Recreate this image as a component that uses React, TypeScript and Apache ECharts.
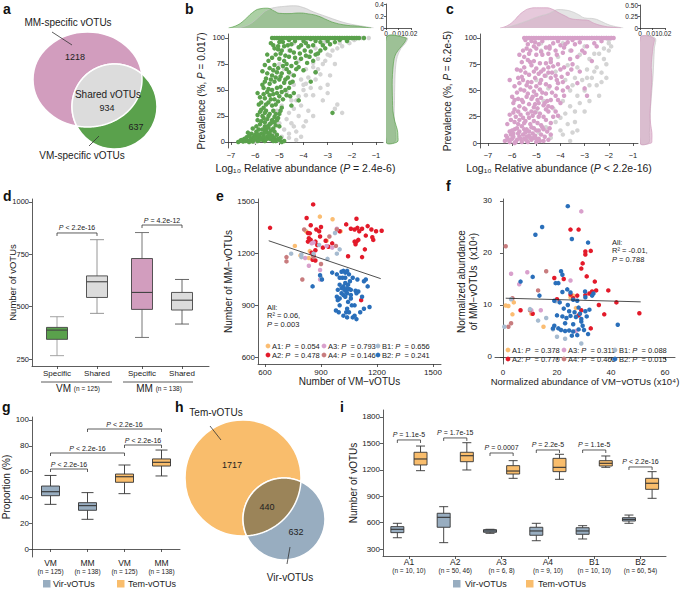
import React, { useEffect, useRef } from "react";
import * as echarts from "echarts";

const FONT = "'Liberation Sans', Arial, Helvetica, sans-serif";
const TXT = "#222";
const AX = "#333";
const GREEN = "#5aa14c";
const PINK = "#d29dbe";
const PINK_PT = "#d6a0c8";
const SHARED = "#dcdcdc";
const GREY_PT = "#d4d4d4";
const VIR = "#98adc0";
const TEM = "#f9bd6c";
const OLIVE = "#9b8459";

// ---------------- data ----------------
const vennACounts = [1218, 934, 637];
const vennHCounts = [1717, 440, 632];

const bGreen = [
  [-6.3, 1], [-6.2, 2], [-6.1, 0.5], [-6.0, 3], [-5.9, 1], [-5.8, 4], [-5.7, 2], [-5.6, 1], [-5.5, 5], [-5.4, 3], [-5.3, 2], [-5.85, 6], [-5.75, 8], [-5.65, 7], [-5.5, 9], [-6.05, 5], [-5.95, 10], [-5.4, 8], [-5.3, 6], [-5.2, 4], [-6.15, 3.5], [-5.55, 12], [-5.7, 12], [-5.45, 14], [-5.6, 15], [-6.25, 0], [-5.15, 1], [-5.05, 3], [-6.0, 7], [-5.35, 11], [-6.7, 0], [-6.5, 0.5], [-6.4, 1], [-4.9, 0], [-4.8, 1], [-5.0, 2], [-6.55, 2],
  [-6.6, 1.5], [-6.45, 3], [-6.35, 4.5], [-6.25, 6], [-6.15, 8], [-6.05, 2], [-5.95, 4], [-5.85, 1.5], [-5.75, 3.5], [-5.65, 4.5], [-5.55, 2.5], [-5.45, 6], [-5.35, 4], [-5.25, 1], [-5.1, 7], [-4.95, 4], [-5.9, 7.5], [-5.6, 9.5], [-5.2, 10], [-6.3, 9],
  [-5.8, 17], [-5.6, 19], [-5.5, 22], [-5.35, 18], [-5.2, 24], [-5.7, 25], [-5.4, 27], [-5.25, 30], [-5.55, 30], [-5.1, 21], [-5.0, 27], [-5.65, 33], [-5.3, 35], [-5.45, 38], [-4.9, 33], [-5.8, 29], [-5.9, 21], [-5.15, 16],
  [-6.1, 13], [-5.95, 15], [-5.85, 12], [-5.75, 20], [-5.65, 23], [-5.45, 25], [-5.3, 21], [-5.2, 19], [-5.05, 23], [-5.5, 15], [-5.4, 17], [-5.25, 13], [-5.9, 26], [-5.6, 28], [-5.0, 15], [-4.95, 30], [-5.75, 31], [-5.15, 27],
  [-5.6, 42], [-5.4, 45], [-5.2, 41], [-5.0, 44], [-5.5, 48], [-5.3, 50], [-5.1, 52], [-4.9, 48], [-5.7, 55], [-5.4, 56], [-5.2, 58], [-4.8, 57], [-5.0, 60], [-5.55, 61], [-4.6, 52], [-4.4, 47], [-5.9, 47], [-4.2, 40], [-5.75, 38],
  [-5.85, 36], [-5.55, 36], [-5.35, 41], [-5.15, 36], [-5.05, 39], [-4.85, 41], [-4.7, 45], [-5.65, 46], [-5.25, 46], [-5.45, 51], [-4.95, 53], [-4.75, 50], [-5.8, 43], [-5.1, 47], [-4.55, 44],
  [-5.3, 64], [-5.1, 67], [-4.9, 66], [-4.7, 70], [-5.4, 71], [-5.2, 74], [-4.5, 73], [-4.3, 76], [-4.8, 78], [-5.0, 80], [-4.6, 82], [-4.1, 80], [-3.9, 83], [-5.6, 74], [-4.4, 86], [-4.9, 88], [-3.7, 87], [-5.5, 84], [-4.0, 69], [-3.6, 78], [-5.7, 68], [-4.65, 62],
  [-5.6, 58], [-5.35, 60], [-5.15, 62], [-4.95, 63], [-4.75, 60], [-4.55, 57], [-4.4, 64], [-5.5, 66], [-5.25, 69], [-5.05, 71], [-4.85, 73], [-4.6, 67], [-4.3, 70], [-4.45, 58], [-5.65, 52],
  [-5.45, 78], [-5.3, 81], [-5.15, 84], [-4.95, 85], [-4.75, 83], [-4.55, 88], [-4.35, 81], [-4.15, 85], [-3.95, 88], [-3.75, 82], [-4.7, 75], [-4.2, 72], [-3.85, 76], [-3.5, 84], [-3.3, 88], [-5.05, 89],
  [-5.2, 90], [-4.8, 92], [-4.5, 94], [-4.2, 91], [-3.9, 95], [-3.6, 93], [-3.3, 96], [-5.0, 96], [-4.6, 98], [-3.1, 90], [-3.4, 85], [-2.9, 94], [-5.35, 95], [-4.0, 97],
  [-5.25, 93], [-5.05, 92], [-4.85, 96], [-4.65, 93], [-4.35, 97], [-4.1, 93], [-3.8, 92], [-3.5, 97], [-3.2, 93], [-3.0, 97], [-2.7, 96], [-2.5, 98], [-4.95, 98], [-3.7, 99], [-2.2, 97],
  [-5.3, 100], [-5.1, 100], [-4.9, 100], [-4.7, 100], [-4.5, 100], [-4.3, 100], [-4.1, 100], [-3.9, 100], [-3.7, 100], [-3.5, 100], [-3.3, 100], [-3.1, 100], [-2.9, 100], [-2.7, 100], [-2.5, 100], [-2.3, 100], [-2.1, 100], [-1.9, 100], [-1.5, 100],
  [-5.2, 100], [-5.0, 100], [-4.8, 100], [-4.6, 100], [-4.4, 100], [-4.2, 100], [-4.0, 100], [-3.8, 100], [-3.6, 100], [-3.4, 100], [-3.2, 100], [-3.0, 100], [-2.8, 100], [-2.6, 100], [-2.4, 100], [-2.2, 100], [-2.0, 100], [-1.8, 100], [-1.7, 100],
  [-2.8, 28], [-3.5, 67], [-4.5, 35], [-3.7, 58],
];
const bGrey = [
  [-5.9, 1], [-5.6, 2], [-5.3, 3], [-5.0, 1], [-4.9, 5], [-5.2, 8], [-4.8, 12], [-5.0, 18], [-4.7, 22], [-4.6, 28], [-4.4, 32], [-4.9, 35], [-4.5, 40], [-4.2, 44], [-4.0, 50], [-4.7, 48], [-4.4, 55], [-4.1, 60], [-3.8, 62], [-4.5, 65], [-3.9, 70], [-3.6, 72], [-3.5, 67], [-3.2, 75], [-4.2, 78], [-3.8, 82], [-3.4, 80], [-3.0, 84], [-4.6, 88], [-3.5, 90], [-2.8, 88], [-3.1, 96], [-2.5, 95], [-2.2, 98], [-3.3, 100], [-2.7, 100], [-2.2, 100], [-1.6, 100], [-1.3, 100], [-3.0, 55], [-3.2, 40], [-2.7, 32], [-2.4, 28], [-3.6, 25], [-4.0, 15], [-5.5, 10], [-5.3, 20], [-5.1, 30], [-4.3, 10], [-3.8, 30], [-4.8, 70], [-5.0, 75], [-4.4, 95], [-3.9, 98], [-2.9, 64], [-4.6, 4], [-4.3, 2], [-6.0, 0], [-3.3, 52], [-3.6, 45],
  [-4.6, 8], [-4.4, 15], [-4.2, 25], [-4.5, 18], [-4.1, 35], [-3.9, 45], [-3.7, 52], [-3.9, 56], [-3.5, 60], [-3.3, 65], [-3.6, 76], [-3.1, 78], [-2.9, 83], [-2.6, 90], [-2.4, 92], [-2.1, 95], [-1.9, 98], [-2.0, 100], [-1.8, 100], [-1.5, 100], [-2.5, 100], [-4.3, 40], [-4.0, 55], [-3.4, 70], [-2.7, 75], [-3.9, 20], [-4.1, 5], [-3.0, 47], [-2.6, 36],
];
const bTopGreen = [[-7.1, 0], [-6.75, 0.045], [-6.45, 0.13], [-6.1, 0.26], [-5.8, 0.32], [-5.5, 0.33], [-5.2, 0.28], [-5.0, 0.245], [-4.6, 0.24], [-4.2, 0.25], [-3.8, 0.235], [-3.4, 0.2], [-3.0, 0.13], [-2.7, 0.085], [-2.2, 0.045], [-1.75, 0.03], [-1.4, 0.01], [-1.2, 0]];
const bTopGrey = [[-6.7, 0], [-6.3, 0.05], [-6.0, 0.13], [-5.7, 0.24], [-5.5, 0.3], [-5.2, 0.34], [-4.8, 0.36], [-4.4, 0.37], [-4.0, 0.34], [-3.6, 0.27], [-3.05, 0.19], [-2.7, 0.14], [-2.4, 0.1], [-2.0, 0.06], [-1.55, 0.03], [-1.1, 0]];
const bRightGreen = [[0.016, 100], [0.015, 96], [0.011, 90], [0.008, 85], [0.0065, 80], [0.0055, 70], [0.005, 60], [0.005, 50], [0.0052, 40], [0.0055, 30], [0.007, 20], [0.009, 12], [0.0095, 6], [0.009, 0]];
const bRightGrey = [[0.017, 100], [0.0155, 95], [0.012, 90], [0.009, 82], [0.0075, 70], [0.007, 55], [0.0068, 40], [0.0065, 25], [0.007, 18], [0.0075, 10], [0.007, 0]];

const cPink = [
  [-6.3, 2], [-6.2, 5], [-6.1, 1], [-6.0, 4], [-5.9, 0], [-5.8, 3], [-5.7, 6], [-5.6, 1], [-5.5, 4], [-5.4, 2], [-5.3, 7], [-5.2, 3], [-5.1, 5], [-5.0, 1], [-4.9, 4], [-4.7, 2], [-5.75, 9], [-5.45, 10], [-5.15, 9], [-6.05, 8], [-4.8, 8], [-4.5, 3], [-6.25, 7],
  [-6.15, 3], [-5.95, 6], [-5.85, 1], [-5.65, 4], [-5.55, 8], [-5.35, 1], [-5.25, 5], [-5.05, 7], [-4.85, 2], [-4.65, 6], [-4.55, 11], [-4.4, 8], [-6.1, 11], [-5.9, 13], [-5.7, 11], [-5.5, 13], [-5.3, 11], [-5.1, 14], [-4.9, 12], [-4.75, 15], [-4.45, 14], [-5.95, 9], [-5.4, 6], [-5.0, 4],
  [-6.0, 12], [-5.8, 14], [-5.6, 16], [-5.4, 13], [-5.2, 15], [-5.0, 12], [-4.8, 17], [-5.9, 20], [-5.7, 22], [-5.5, 19], [-5.3, 24], [-5.1, 21], [-4.9, 25], [-4.6, 22], [-5.65, 27], [-5.35, 28], [-5.05, 29], [-4.5, 30], [-6.2, 18], [-4.3, 25], [-4.1, 26], [-4.7, 13],
  [-6.05, 22], [-5.85, 25], [-5.75, 18], [-5.55, 24], [-5.45, 21], [-5.25, 18], [-5.15, 26], [-4.95, 19], [-4.85, 28], [-4.7, 25], [-4.4, 19], [-4.2, 30], [-5.95, 29], [-5.75, 30], [-5.45, 32], [-5.2, 30], [-4.95, 33], [-4.6, 32], [-4.35, 34], [-6.1, 27],
  [-5.9, 32], [-5.7, 35], [-5.5, 33], [-5.3, 37], [-5.1, 34], [-4.9, 38], [-4.7, 36], [-5.6, 41], [-5.4, 44], [-5.2, 42], [-5.0, 46], [-4.8, 43], [-4.6, 47], [-4.4, 41], [-5.8, 48], [-5.5, 50], [-5.1, 49], [-4.2, 45], [-3.9, 50], [-4.0, 38], [-6.0, 44], [-4.5, 35],
  [-5.95, 38], [-5.75, 42], [-5.55, 39], [-5.35, 47], [-5.15, 44], [-4.95, 41], [-4.75, 48], [-4.55, 40], [-4.35, 48], [-4.15, 52], [-5.65, 51], [-5.25, 53], [-4.85, 51], [-4.45, 54], [-4.1, 41], [-3.85, 45], [-5.9, 41], [-5.05, 37], [-4.65, 38], [-3.7, 53],
  [-5.9, 54], [-5.7, 57], [-5.4, 55], [-5.2, 58], [-5.0, 54], [-4.8, 60], [-4.6, 56], [-4.4, 62], [-5.6, 63], [-5.3, 65], [-5.1, 68], [-4.9, 66], [-4.7, 70], [-4.5, 67], [-4.2, 64], [-5.8, 70], [-5.5, 72], [-5.2, 74], [-4.3, 73], [-4.0, 70], [-3.7, 66], [-5.35, 79], [-5.1, 78], [-4.6, 76], [-4.1, 57],
  [-5.75, 62], [-5.55, 60], [-5.35, 58], [-5.05, 62], [-4.85, 57], [-4.65, 64], [-4.35, 67], [-4.15, 60], [-3.95, 63], [-5.65, 69], [-5.45, 67], [-5.0, 71], [-4.8, 68], [-4.5, 72], [-4.1, 75], [-3.85, 72], [-3.55, 70], [-5.6, 77], [-5.25, 77], [-4.85, 76], [-4.4, 77], [-3.5, 75], [-3.2, 68], [-3.9, 58],
  [-5.5, 82], [-5.3, 85], [-5.0, 84], [-4.8, 87], [-4.5, 85], [-4.2, 88], [-3.9, 86], [-5.4, 90], [-5.1, 92], [-4.9, 94], [-4.6, 91], [-4.3, 95], [-4.0, 93], [-3.7, 96], [-3.4, 94], [-5.2, 97], [-3.1, 88], [-3.6, 80], [-2.7, 78], [-2.5, 92], [-4.4, 80],
  [-5.55, 88], [-5.25, 88], [-5.0, 90], [-4.75, 84], [-4.45, 90], [-4.15, 84], [-3.85, 91], [-3.55, 88], [-3.3, 82], [-3.0, 86], [-5.35, 94], [-5.05, 96], [-4.75, 97], [-4.45, 92], [-4.1, 97], [-3.8, 94], [-3.5, 98], [-3.2, 96], [-2.9, 92], [-2.6, 95], [-2.3, 97], [-5.45, 98],
  [-5.5, 100], [-5.3, 100], [-5.1, 100], [-4.9, 100], [-4.7, 100], [-4.5, 100], [-4.3, 100], [-4.1, 100], [-3.9, 100], [-3.7, 100], [-3.5, 100], [-3.3, 100], [-3.1, 100], [-2.9, 100], [-2.7, 100], [-2.5, 100], [-2.3, 100], [-2.1, 100], [-1.9, 100],
  [-5.4, 100], [-5.2, 100], [-5.0, 100], [-4.8, 100], [-4.6, 100], [-4.4, 100], [-4.2, 100], [-4.0, 100], [-3.8, 100], [-3.6, 100], [-3.4, 100], [-3.2, 100], [-3.0, 100], [-2.8, 100], [-2.6, 100], [-2.4, 100], [-2.2, 100], [-2.0, 100], [-1.8, 100],
  [-6.1, 60], [-5.7, 84], [-3.3, 57], [-3.0, 52], [-2.9, 45],
];
const cGrey = [
  [-5.3, 5], [-4.9, 10], [-4.6, 15], [-4.4, 5], [-4.2, 20], [-4.0, 12], [-3.8, 28], [-3.6, 35], [-3.9, 40], [-3.3, 45], [-3.5, 55], [-3.1, 60], [-2.9, 62], [-2.6, 68], [-3.3, 72], [-2.8, 80], [-2.4, 85], [-2.2, 90], [-2.0, 95], [-3.0, 92], [-3.6, 88], [-4.1, 82], [-4.4, 78], [-3.8, 60], [-4.5, 52], [-4.7, 40], [-5.0, 30], [-2.7, 100], [-2.3, 100], [-2.0, 98], [-3.4, 20], [-3.0, 30], [-2.5, 55], [-2.3, 67], [-2.1, 62], [-4.2, 68], [-3.7, 74], [-5.0, 60], [-3.2, 84], [-4.8, 95], [-3.5, 10], [-4.3, 33], [-2.8, 40],
  [-3.9, 8], [-3.7, 18], [-3.4, 30], [-3.2, 38], [-3.0, 50], [-2.8, 55], [-2.7, 62], [-2.5, 72], [-2.2, 80], [-2.0, 88], [-2.6, 85], [-2.9, 70], [-3.4, 62], [-3.6, 50], [-4.0, 24], [-3.3, 12], [-2.4, 45], [-2.1, 75], [-1.9, 92], [-2.5, 100], [-2.1, 100], [-1.9, 100], [-3.1, 100], [-4.6, 64], [-4.8, 88], [-3.9, 95], [-2.3, 58], [-3.6, 2],
];
const cTopPink = [[-6.5, 0], [-6.2, 0.05], [-5.9, 0.17], [-5.75, 0.26], [-5.5, 0.37], [-5.3, 0.42], [-5.0, 0.44], [-4.6, 0.44], [-4.3, 0.4], [-4.1, 0.34], [-3.8, 0.26], [-3.55, 0.2], [-3.2, 0.18], [-2.9, 0.17], [-2.6, 0.1], [-2.2, 0.04], [-1.9, 0.02], [-1.5, 0]];
const cTopGrey = [[-6.3, 0], [-5.9, 0.06], [-5.35, 0.16], [-4.9, 0.25], [-4.5, 0.31], [-4.3, 0.36], [-4.1, 0.4], [-3.8, 0.39], [-3.55, 0.36], [-3.25, 0.29], [-3.0, 0.22], [-2.6, 0.2], [-2.3, 0.14], [-2.05, 0.08], [-1.8, 0.04], [-1.4, 0]];
const cRightPink = [[0.011, 100], [0.0105, 92], [0.0095, 82], [0.009, 72], [0.0095, 62], [0.009, 50], [0.0085, 38], [0.008, 28], [0.0085, 18], [0.0095, 10], [0.0095, 3], [0.009, 0]];
const cRightGrey = [[0.012, 100], [0.0115, 90], [0.011, 78], [0.0105, 65], [0.0095, 50], [0.0085, 35], [0.008, 22], [0.0075, 10], [0.007, 0]];

const bXTicks = [-7, -6, -5, -4, -3, -2, -1];
const prevTicks = [0, 25, 50, 75, 100];

const dLabels = ["Specific", "Shared", "Specific", "Shared"];
const dPositions = [1, 2, 3.125, 4.125];
const dBoxes = [
  [266, 344, 388, 401, 452],
  [468, 544, 619, 647, 820],
  [353, 487, 568, 730, 854],
  [417, 484, 531, 568, 630],
];
const dBracketPairs = [[1, 2], [3.125, 4.125]];
const dBracketY = [852, 890];
const dBracketLabels = ["{i|P} < 2.2e-16", "{i|P} = 4.2e-12"];

const groups = ["A1", "A2", "A3", "A4", "B1", "B2"];
const groupColors = ["#fbbd72", "#e31a2a", "#d9a0cc", "#c87c7e", "#a6bbd0", "#2a6fba"];
const ePvals = ["0.054", "0.478", "0.793", "0.146", "0.656", "0.241"];
const fPvals = ["0.378", "0.770", "0.311", "0.460", "0.088", "0.015"];

const eA1 = [[894, 1415], [962, 1400], [1005, 1330], [930, 1275], [760, 1245], [840, 1215], [835, 1175], [820, 1330], [790, 1190]];
const eA2 = [[627, 1350], [823, 1407], [858, 1486], [1090, 1403], [845, 1365], [875, 1340], [900, 1355], [890, 1330], [830, 1320], [840, 1318], [835, 1290], [830, 1270], [845, 1280], [870, 1270], [880, 1250], [895, 1300], [910, 1235], [925, 1275], [940, 1240], [960, 1260], [1000, 1330], [1035, 1370], [1060, 1345], [1080, 1340], [1095, 1350], [1105, 1330], [1120, 1345], [1140, 1305], [1150, 1360], [1170, 1340], [1175, 1295], [1180, 1280], [1195, 1330], [1225, 1333], [1090, 1270], [1080, 1270], [1100, 1280], [1085, 1255], [1135, 1225], [1120, 1180], [1045, 1185], [870, 1220], [860, 1190], [855, 1165], [870, 1160], [1115, 930], [850, 1205]];
const eA3 = [[815, 1175], [835, 1130], [860, 1265], [895, 1105], [895, 1050], [930, 1245], [960, 1235], [985, 1345], [850, 1260]];
const eA4 = [[715, 1180], [715, 1155], [800, 1050], [900, 1140], [945, 1300], [980, 1245], [985, 1340], [810, 1340], [860, 1180]];
const eB1 = [[740, 1200], [795, 1195], [795, 1180], [860, 1200], [890, 1250], [975, 1320], [1000, 1225], [985, 1200], [900, 1060], [935, 1170]];
const eB2 = [[855, 1010], [895, 1075], [905, 1050], [960, 1090], [985, 1080], [1000, 1060], [1010, 1095], [1020, 1100], [1030, 1090], [1040, 1100], [1050, 1080], [1070, 1060], [1095, 1050], [1130, 1040], [1140, 1050], [1000, 1020], [1010, 1000], [1020, 1010], [1025, 990], [1030, 1030], [1035, 980], [1040, 1000], [1045, 1020], [1050, 995], [1060, 990], [1020, 960], [1030, 950], [1040, 970], [1010, 970], [1000, 940], [990, 930], [985, 950], [1000, 900], [1040, 880], [1050, 860], [1035, 860], [995, 860], [980, 870], [1020, 840], [1070, 830], [1060, 960], [1080, 900], [1100, 980], [1120, 950], [1150, 1010], [1160, 890], [1130, 880], [1110, 860], [1060, 940], [1065, 900], [1045, 920], [1085, 985], [1090, 970], [1030, 1060], [1055, 1040], [990, 990], [1015, 1060], [1080, 840], [1090, 820], [1040, 830]];
const eFit = [[620, 1275], [1220, 1055]];

const fA1 = [[1, 9.9], [2, 9.8], [4, 10.5], [3.5, 8.2], [10.5, 8.3], [15, 5.8], [27, 9.4], [26, 11.8], [25, 11.5]];
const fA2 = [[25, 24.5], [28, 24.5], [30.5, 20.3], [30.5, 19.7], [32.5, 20.4], [29.5, 18], [29, 17], [31, 15.5], [34, 14.5], [34.5, 12.8], [39, 12.8], [35.5, 10], [37.5, 8.2], [42, 10.5], [50.5, 8.4], [19, 15.2], [22.5, 15], [25, 12], [26, 11.3], [27.5, 11.8], [20, 11.1], [28, 8], [29, 9], [32.5, 5.5], [6.5, 9], [11, 8.3], [32, 12.2], [30.5, 11.9], [33, 12.6]];
const fA3 = [[29, 28], [3, 16], [9, 16.3], [6, 14], [14, 9], [25, 14.7], [10.5, 9], [27, 5]];
const fA4 = [[1, 21.3], [16, 16.5], [13, 12.8], [3.5, 11.3], [3, 6.5], [2, 5.8], [10, 9]];
const fB1 = [[0.5, 5.8], [3, 11.1], [10, 9.2], [13, 7], [16, 7.5], [19.5, 10.7], [20, 3.9], [23, 3.5], [29, 2.6], [18.5, 5.3]];
const fB2 = [[24, 29], [14.5, 25], [12, 23.5], [25.5, 22.7], [31.5, 22], [6.5, 14.5], [11, 15.4], [21.5, 16.5], [20.5, 14.2], [22, 15.8], [23.8, 13], [25, 12.4], [30.4, 12.6], [33, 11.8], [33.5, 12.2], [13.5, 11.8], [19, 10.8], [21, 10.5], [24, 10], [26, 11], [27.5, 10.8], [28, 9.5], [22.5, 9.3], [24.5, 8.8], [26.5, 8.6], [28.5, 8.3], [30.5, 8.8], [32, 9.1], [20, 8], [22, 7.8], [23.5, 7.5], [25, 7.9], [27, 7.7], [29, 7.3], [31, 7.8], [19, 6], [20.5, 5.5], [21.5, 5.2], [23, 5], [24.5, 5.1], [26, 4.9], [28, 5.3], [29.5, 6], [30, 5.2], [27.5, 4.2], [25.5, 4.1], [31.5, 4.4], [42.5, 6.2], [18.5, 5.5], [23, 6.5], [26, 6.3], [29, 6.8], [22, 12.5], [30.5, 11.5], [19.5, 14.2]];
const fFit = [[1, 11.3], [51, 10.6]];

const gCategories = ["VM", "MM", "VM", "MM"];
const gN = ["125", "138", "125", "138"];
const gVir = [[34.6, 41.3, 44.4, 48.8, 57], [23, 30, 33.6, 35.9, 43.7]];
const gTem = [[42.9, 51.7, 56, 58.1, 65.1], [56.6, 64.3, 67.2, 69.8, 76.7]];
const gBracketPairs = [[0, 1], [0, 2], [2, 3], [1, 3]];
const gBracketY = [62, 74.4, 80.6, 93];
const gBracketLabels = ["{i|P} < 2.2e-16", "{i|P} < 2.2e-16", "{i|P} < 2.2e-16", "{i|P} < 2.2e-16"];

const iN = ["10, 10", "50, 46", "6, 8", "9, 10", "10, 10", "60, 54"];
const iVir = [[428, 486, 524, 554, 592], [372, 547, 660, 706, 781], [478, 490, 505, 520, 524], [394, 456, 505, 547, 592], [414, 467, 505, 542, 565], [592, 618, 637, 656, 686]];
const iTem = [[1190, 1255, 1323, 1399, 1470], [1198, 1292, 1360, 1399, 1508], [1103, 1152, 1186, 1247, 1304], [1092, 1179, 1228, 1330, 1376], [1228, 1243, 1274, 1304, 1357], [876, 978, 1047, 1103, 1179]];
const iBracketY = [1539, 1562, 1391, 1425, 1425, 1232];
const iBracketLabels = ["{i|P} = 1.1e-5", "{i|P} = 1.7e-15", "{i|P} = 0.0007", "{i|P} = 2.2e-5", "{i|P} = 1.1e-5", "{i|P} < 2.2e-16"];

const legendNames = ["Vir-vOTUs", "Tem-vOTUs"];

// ---------------- helpers ----------------
const numFmt = (v: number) => (v < 0 ? "\u2212" + Math.abs(v) : String(v));
const richI = (fs: number) => ({ i: { fontStyle: "italic", fontSize: fs, fontFamily: FONT, color: TXT } });

function lensPoints(e: number[], c: number[], n = 720) {
  const [ex, ey, rx, ry] = e;
  const [cx, cy, r] = c;
  const inC = (x: number, y: number) => (x - cx) ** 2 + (y - cy) ** 2 <= r * r;
  const inE = (x: number, y: number) => ((x - ex) / rx) ** 2 + ((y - ey) / ry) ** 2 <= 1;
  const s1 = Math.atan2(ey - cy, ex - cx);
  const s2 = Math.atan2(cy - ey, cx - ex);
  const arcE: number[][] = [];
  const arcC: number[][] = [];
  for (let k = 0; k < n; k++) {
    const t = s1 + (2 * Math.PI * k) / n;
    const x = ex + rx * Math.cos(t), y = ey + ry * Math.sin(t);
    if (inC(x, y)) arcE.push([x, y]);
  }
  for (let k = 0; k < n; k++) {
    const t = s2 + (2 * Math.PI * k) / n;
    const x = cx + r * Math.cos(t), y = cy + r * Math.sin(t);
    if (inE(x, y)) arcC.push([x, y]);
  }
  const last = arcE[arcE.length - 1];
  const d = (p: number[], q: number[]) => Math.hypot(p[0] - q[0], p[1] - q[1]);
  if (d(last, arcC[0]) > d(last, arcC[arcC.length - 1])) arcC.reverse();
  return [...arcE, ...arcC];
}

function txt(x: number, y: number, text: string, fontSize: number, extra: any = {}) {
  const align = extra.align || "center";
  const va = extra.verticalAlign || "middle";
  return {
    type: "text", x, y, silent: true, z: 50,
    style: {
      text, fontSize, fontFamily: FONT, fill: extra.fill || TXT,
      align, textAlign: align, verticalAlign: va, textVerticalAlign: va,
      fontWeight: extra.fontWeight || "normal", fontStyle: extra.fontStyle || "normal", rich: extra.rich, lineHeight: extra.lineHeight,
    },
  };
}
function seg(x1: number, y1: number, x2: number, y2: number) {
  return { type: "line", silent: true, z: 50, shape: { x1, y1, x2, y2 }, style: { stroke: AX, lineWidth: 0.8 } };
}

function makeBox(o: { halfW: number; capHalf: number; off: number; fill: (i: number) => string; whisker: (i: number) => string; border: string }) {
  return (params: any, api: any) => {
    const x = api.value(0) + o.off;
    const pMin = api.coord([x, api.value(1)]);
    const pQ1 = api.coord([x, api.value(2)]);
    const pMed = api.coord([x, api.value(3)]);
    const pQ3 = api.coord([x, api.value(4)]);
    const pMax = api.coord([x, api.value(5)]);
    const cx = pMin[0];
    const i = params.dataIndex;
    const ls = { stroke: o.whisker(i), lineWidth: 0.9 };
    return {
      type: "group",
      children: [
        { type: "line", shape: { x1: cx, y1: pMax[1], x2: cx, y2: pQ3[1] }, style: ls },
        { type: "line", shape: { x1: cx, y1: pQ1[1], x2: cx, y2: pMin[1] }, style: ls },
        { type: "line", shape: { x1: cx - o.capHalf, y1: pMax[1], x2: cx + o.capHalf, y2: pMax[1] }, style: ls },
        { type: "line", shape: { x1: cx - o.capHalf, y1: pMin[1], x2: cx + o.capHalf, y2: pMin[1] }, style: ls },
        { type: "rect", shape: { x: cx - o.halfW, y: pQ3[1], width: 2 * o.halfW, height: pQ1[1] - pQ3[1] }, style: { fill: o.fill(i), stroke: o.border, lineWidth: 0.9 } },
        { type: "line", shape: { x1: cx - o.halfW, y1: pMed[1], x2: cx + o.halfW, y2: pMed[1] }, style: { stroke: o.border, lineWidth: 1.1 } },
      ],
    };
  };
}

function makeBracket(labels: string[], fs: number) {
  return (params: any, api: any) => {
    const a = api.coord([api.value(0), api.value(2)]);
    const b = api.coord([api.value(1), api.value(2)]);
    return {
      type: "group",
      children: [
        { type: "polyline", shape: { points: [[a[0], a[1] + 3], [a[0], a[1]], [b[0], b[1]], [b[0], b[1] + 3]] }, style: { stroke: AX, fill: "none", lineWidth: 0.8 } },
        { type: "text", x: (a[0] + b[0]) / 2, y: a[1] - 1.5, style: { text: labels[params.dataIndex], rich: richI(fs), fontSize: fs, fontFamily: FONT, fill: TXT, align: "center", verticalAlign: "bottom" } },
      ],
    };
  };
}

function topDensity(idx: number, data: number[][], line: string, fill: string) {
  return { type: "line", xAxisIndex: idx, yAxisIndex: idx, data, smooth: true, symbol: "none", silent: true, lineStyle: { color: line, width: 0.7 }, areaStyle: { color: fill, opacity: 1 } };
}
function sideDensity(idx: number, data: number[][], line: string, fill: string) {
  return {
    type: "custom", xAxisIndex: idx, yAxisIndex: idx, data: [[0, 50]], clip: true, silent: true,
    renderItem: (params: any, api: any) => {
      const pts = data.map((p) => api.coord(p));
      const first = api.coord([0, data[0][1]]);
      const last = api.coord([0, data[data.length - 1][1]]);
      return { type: "polygon", shape: { points: [first, ...pts, last], smooth: 0.35 }, style: { fill, stroke: line, lineWidth: 0.7 } };
    },
  };
}

const axLine = { show: true, lineStyle: { color: AX, width: 0.8 } };
function valAxis(gridIndex: number, min: number, max: number, ticks: number[], extra: any = {}) {
  const { label, tick, ...rest } = extra;
  return {
    type: "value", gridIndex, min, max,
    axisLine: axLine,
    axisTick: { show: true, length: 3, customValues: ticks, lineStyle: { color: AX, width: 0.8 }, ...(tick || {}) },
    axisLabel: { customValues: ticks, fontSize: 7.5, color: TXT, fontFamily: FONT, margin: 3, showMinLabel: true, showMaxLabel: true, formatter: numFmt, ...(label || {}) },
    splitLine: { show: false },
    nameTextStyle: { fontSize: 10, color: TXT, fontFamily: FONT, rich: richI(10) },
    nameLocation: "middle",
    ...rest,
  };
}
const hidden = (gridIndex: number, min: number, max: number) => ({ type: "value", gridIndex, min, max, show: false });

function buildOption() {
  const G = (left: number, top: number, width: number, height: number) => ({ left, top, width, height, containLabel: false, outerBoundsMode: "none" });
  const grid = [
    G(228, 34, 155, 114), G(228, 4, 155, 24), G(386, 34, 25, 114),
    G(480, 34, 158, 114), G(480, 5, 158, 23), G(640, 34, 25, 114),
    G(32, 199, 177, 167), G(258, 199, 183, 165), G(495, 199, 180, 165),
    G(32, 417, 148, 140), G(383, 410, 283, 146),
    G(386, 4, 25, 24), G(640, 5, 25, 23),
  ];
  const xTitle = (s: string) => ({ name: s, nameGap: 14, nameTextStyle: { fontSize: 10.5, color: TXT, fontFamily: FONT, rich: richI(10.5) } });
  const cornerLbl = { fontSize: 6.5, margin: 2, formatter: (v: number) => String(v) };
  const xAxis: any[] = [
    valAxis(0, -7.124, -0.71, bXTicks, xTitle("Log\u2081\u2080 Relative abundance ({i|P} = 2.4e-6)")),
    hidden(1, -7.124, -0.71),
    hidden(2, 0, 0.02),
    valAxis(3, -7.33, -0.79, bXTicks, xTitle("Log\u2081\u2080 Relative abundance ({i|P} < 2.2e-16)")),
    hidden(4, -7.33, -0.79),
    hidden(5, 0, 0.02),
    valAxis(6, 0.375, 4.8, dPositions, { label: { fontSize: 8, formatter: (v: number) => dLabels[dPositions.indexOf(v)] || "" } }),
    valAxis(7, 562.5, 1542.9, [600, 900, 1200, 1500], { label: { margin: 4, fontSize: 8 }, name: "Number of VM\u2212vOTUs", nameGap: 12 }),
    valAxis(8, -2.96, 63.7, [0, 20, 40, 60], { label: { margin: 4, fontSize: 8 }, name: "Normalized abundance of VM\u2212vOTUs (x10\u2074)", nameGap: 12, nameTextStyle: { fontSize: 9.5, color: TXT, fontFamily: FONT } }),
    {
      type: "category", gridIndex: 9, data: gCategories, axisLine: axLine,
      axisTick: { show: true, alignWithLabel: true, length: 3, lineStyle: { color: AX, width: 0.8 } },
      axisLabel: { margin: 1, interval: 0, formatter: (v: string, k: number) => `{a|${v}}\n{b|(n = ${gN[k]})}`, rich: { a: { fontSize: 8.5, lineHeight: 9, color: TXT, fontFamily: FONT }, b: { fontSize: 6.5, lineHeight: 9, color: TXT, fontFamily: FONT } } },
      splitLine: { show: false },
    },
    valAxis(10, 0.44, 6.55, [1, 2, 3, 4, 5, 6], {
      label: { margin: 1, formatter: (v: number) => { const k = Math.round(v) - 1; return `{a|${groups[k]}}\n{b|(n = ${iN[k]})}`; }, rich: { a: { fontSize: 8.5, lineHeight: 9, color: TXT, fontFamily: FONT }, b: { fontSize: 6.5, lineHeight: 9, color: TXT, fontFamily: FONT } } },
    }),
    valAxis(11, 0, 0.02, [0, 0.01, 0.02], { label: cornerLbl, tick: { length: 2 } }),
    valAxis(12, 0, 0.02, [0, 0.01, 0.02], { label: cornerLbl, tick: { length: 2 } }),
  ];
  const yAxis: any[] = [
    valAxis(0, -5.77, 103.8, prevTicks, { name: "Prevalence (%, {i|P} = 0.017)", nameGap: 22 }),
    hidden(1, 0, 0.4),
    hidden(2, -5.77, 103.8),
    valAxis(3, -4.76, 103.8, prevTicks, { name: "Prevalence (%, {i|P} = 6.2e-5)", nameGap: 28 }),
    hidden(4, 0, 0.5),
    hidden(5, -4.76, 103.8),
    valAxis(6, 216.6, 1014.3, [250, 500, 750, 1000], { name: "Number of vOTUs", nameGap: 15, nameMoveOverlap: false, nameTextStyle: { fontSize: 9.5, color: TXT, fontFamily: FONT } }),
    valAxis(7, 559.4, 1517.4, [600, 900, 1200, 1500], { label: { fontSize: 8 }, name: "Number of MM\u2212vOTUs", nameGap: 17 }),
    valAxis(8, -1.35, 30.38, [0, 10, 20, 30], { label: { fontSize: 8 }, name: "Normalized abundance\nof MM\u2212vOTUs  (x10\u2074)", nameGap: 16, nameTextStyle: { fontSize: 10, color: TXT, fontFamily: FONT, lineHeight: 12 } }),
    valAxis(9, -6.2, 102.3, [0, 20, 40, 60, 80, 100], { label: { fontSize: 8 }, name: "Proportion (%)", nameGap: 14 }),
    valAxis(10, 220.5, 1879.5, [300, 600, 900, 1200, 1500, 1800], { label: { fontSize: 8 }, name: "Number of vOTUs", nameGap: 24 }),
    valAxis(11, 0, 0.4, [0, 0.2, 0.4], { label: cornerLbl, tick: { length: 2 } }),
    valAxis(12, 0, 0.5, [0, 0.25, 0.5], { label: { ...cornerLbl, formatter: (v: number) => (v === 0 ? "0" : v.toFixed(2)) }, tick: { length: 2 } }),
  ];

  const series: any[] = [];
  series.push({ type: "scatter", xAxisIndex: 0, yAxisIndex: 0, data: bGrey, symbolSize: 4.5, silent: true, itemStyle: { color: GREY_PT, opacity: 1 } });
  series.push({ type: "scatter", xAxisIndex: 0, yAxisIndex: 0, data: bGreen, symbolSize: 4.5, silent: true, itemStyle: { color: GREEN, opacity: 1 } });
  series.push(topDensity(1, bTopGrey, "#c4c4c4", "rgba(225,225,225,1)"));
  series.push(topDensity(1, bTopGreen, GREEN, "rgba(90,161,76,0.5)"));
  series.push(sideDensity(2, bRightGrey, "#c4c4c4", "rgba(225,225,225,1)"));
  series.push(sideDensity(2, bRightGreen, GREEN, "rgba(90,161,76,0.5)"));
  series.push({ type: "scatter", xAxisIndex: 3, yAxisIndex: 3, data: cGrey, symbolSize: 4.5, silent: true, itemStyle: { color: GREY_PT, opacity: 1 } });
  series.push({ type: "scatter", xAxisIndex: 3, yAxisIndex: 3, data: cPink, symbolSize: 4.5, silent: true, itemStyle: { color: PINK_PT, opacity: 1 } });
  series.push(topDensity(4, cTopGrey, "#c8c8c8", "rgba(228,228,228,1)"));
  series.push(topDensity(4, cTopPink, PINK, "rgba(210,157,190,0.55)"));
  series.push(sideDensity(5, cRightGrey, "#c8c8c8", "rgba(228,228,228,1)"));
  series.push(sideDensity(5, cRightPink, PINK, "rgba(210,157,190,0.55)"));

  const dFills = [GREEN, SHARED, PINK, SHARED];
  const dWhisk = ["#9a9a9a", "#8a8a8a", "#666666", "#555555"];
  series.push({
    type: "custom", xAxisIndex: 6, yAxisIndex: 6, silent: true, clip: false,
    encode: { x: 0, y: [1, 2, 3, 4, 5] },
    data: dBoxes.map((b, k) => [dPositions[k], ...b]),
    renderItem: makeBox({ halfW: 10.5, capHalf: 7, off: 0, fill: (k) => dFills[k], whisker: (k) => dWhisk[k], border: "#444" }),
  });
  series.push({
    type: "custom", xAxisIndex: 6, yAxisIndex: 6, silent: true, clip: false, encode: { x: [0, 1], y: 2 },
    data: dBracketPairs.map((p, k) => [p[0], p[1], dBracketY[k]]), renderItem: makeBracket(dBracketLabels, 7),
  });

  const eSets = [eA1, eA2, eA3, eA4, eB1, eB2];
  const fSets = [fA1, fA2, fA3, fA4, fB1, fB2];
  groups.forEach((g, k) => {
    series.push({ type: "scatter", name: g, xAxisIndex: 7, yAxisIndex: 7, data: eSets[k], symbolSize: 4.5, silent: true, itemStyle: { color: groupColors[k], opacity: 1 } });
  });
  series.push({ type: "line", xAxisIndex: 7, yAxisIndex: 7, data: eFit, symbol: "none", silent: true, lineStyle: { color: "#222", width: 0.8 } });
  groups.forEach((g, k) => {
    series.push({ type: "scatter", name: g, xAxisIndex: 8, yAxisIndex: 8, data: fSets[k], symbolSize: 4.5, silent: true, itemStyle: { color: groupColors[k], opacity: 1 } });
  });
  series.push({ type: "line", xAxisIndex: 8, yAxisIndex: 8, data: fFit, symbol: "none", silent: true, lineStyle: { color: "#222", width: 0.8 } });

  series.push({
    type: "custom", name: legendNames[0], xAxisIndex: 9, yAxisIndex: 9, silent: true, clip: false, itemStyle: { color: VIR },
    encode: { x: 0, y: [1, 2, 3, 4, 5] }, data: gVir.map((b, k) => [k, ...b]),
    renderItem: makeBox({ halfW: 9, capHalf: 6, off: 0, fill: () => VIR, whisker: () => AX, border: AX }),
  });
  series.push({
    type: "custom", name: legendNames[1], xAxisIndex: 9, yAxisIndex: 9, silent: true, clip: false, itemStyle: { color: TEM },
    encode: { x: 0, y: [1, 2, 3, 4, 5] }, data: gTem.map((b, k) => [k + 2, ...b]),
    renderItem: makeBox({ halfW: 9, capHalf: 6, off: 0, fill: () => TEM, whisker: () => AX, border: AX }),
  });
  series.push({
    type: "custom", xAxisIndex: 9, yAxisIndex: 9, silent: true, clip: false, encode: { x: [0, 1], y: 2 },
    data: gBracketPairs.map((p, k) => [p[0], p[1], gBracketY[k]]), renderItem: makeBracket(gBracketLabels, 7),
  });
  series.push({
    type: "custom", name: legendNames[0], xAxisIndex: 10, yAxisIndex: 10, silent: true, clip: false, itemStyle: { color: VIR },
    encode: { x: 0, y: [1, 2, 3, 4, 5] }, data: iVir.map((b, k) => [k + 1, ...b]),
    renderItem: makeBox({ halfW: 6.5, capHalf: 4.5, off: -0.25, fill: () => VIR, whisker: () => AX, border: AX }),
  });
  series.push({
    type: "custom", name: legendNames[1], xAxisIndex: 10, yAxisIndex: 10, silent: true, clip: false, itemStyle: { color: TEM },
    encode: { x: 0, y: [1, 2, 3, 4, 5] }, data: iTem.map((b, k) => [k + 1, ...b]),
    renderItem: makeBox({ halfW: 6.5, capHalf: 4.5, off: 0.25, fill: () => TEM, whisker: () => AX, border: AX }),
  });
  series.push({
    type: "custom", xAxisIndex: 10, yAxisIndex: 10, silent: true, clip: false, encode: { x: [0, 1], y: 2 },
    data: iBracketY.map((y, k) => [k + 1 - 0.25, k + 1 + 0.25, y]), renderItem: makeBracket(iBracketLabels, 7),
  });

  const legendRows = [["A1", "A3", "B1"], ["A2", "A4", "B2"]];
  const keyGraphics: any[] = [];
  const scatterKey = (pv: string[], xs: number[], ys: number[]) => {
    legendRows.forEach((row, r) => row.forEach((g, c) => {
      const k = groups.indexOf(g);
      keyGraphics.push({ type: "circle", silent: true, z: 50, shape: { cx: xs[c], cy: ys[r], r: 2.4 }, style: { fill: groupColors[k] } });
      keyGraphics.push(txt(xs[c] + 4, ys[r], `${g}: {i|P}  = ${pv[k]}`, 7.5, { align: "left", rich: richI(7.5) }));
    }));
  };
  scatterKey(ePvals, [268, 324, 378], [346, 355]);
  scatterKey(fPvals, [508, 564, 615], [350, 359]);
  const boxKey = (xs: number[], tx: number[]) => {
    [VIR, TEM].forEach((col, k) => {
      keyGraphics.push({ type: "rect", silent: true, z: 50, shape: { x: xs[k], y: 580, width: 7.5, height: 7.5 }, style: { fill: col } });
      keyGraphics.push(txt(tx[k], 584, legendNames[k], 9, { align: "left" }));
    });
  };
  boxKey([43, 117], [53, 128]);
  boxKey([453, 526], [465, 538]);

  const eMM = [87.5, 79.5, 54.5, 47.5], cVM = [114.5, 106.5, 42.5];
  const eTem = [243, 478, 58, 58], cVir = [284, 519, 41];
  const ell = (e: number[], fill: string) => ({ type: "ellipse", silent: true, z: 40, shape: { cx: e[0], cy: e[1], rx: e[2], ry: e[3] }, style: { fill, stroke: "#fff", lineWidth: 1.5 } });
  const circ = (c: number[], fill: string) => ({ type: "circle", silent: true, z: 40, shape: { cx: c[0], cy: c[1], r: c[2] }, style: { fill, stroke: "#fff", lineWidth: 1.5 } });
  const lens = (a: number[], b: number[], fill: string) => ({ type: "polygon", silent: true, z: 41, shape: { points: lensPoints(a, b) }, style: { fill, stroke: "#fff", lineWidth: 1.5 } });

  const L = (x: number, y: number, s: string) => txt(x, y, s, 14, { align: "left", verticalAlign: "bottom", fontWeight: "bold", fill: "#111" });
  const graphic: any[] = [
    L(3, 16, "a"), L(185, 16, "b"), L(446, 16, "c"), L(3, 203, "d"), L(216, 203, "e"), L(446, 193, "f"), L(2, 414, "g"), L(175, 414, "h"), L(340, 414, "i"),
    ell(eMM, PINK), circ(cVM, GREEN), lens(eMM, cVM, SHARED),
    txt(68, 22, "MM-specific vOTUs", 10), seg(52, 32, 72, 45),
    txt(75, 57, String(vennACounts[0]), 9), txt(108, 94, "Shared vOTUs", 10), txt(107, 108, String(vennACounts[1]), 9), txt(136, 127, String(vennACounts[2]), 9),
    txt(82, 155, "VM-specific vOTUs", 10), seg(89, 146, 99, 136),
    ell(eTem, TEM), circ(cVir, VIR), lens(eTem, cVir, OLIVE),
    txt(216, 412, "Tem-vOTUs", 10), seg(210, 426, 221, 440),
    txt(232, 465, String(vennHCounts[0]), 9), txt(267, 507, String(vennHCounts[1]), 9), txt(296, 532, String(vennHCounts[2]), 9),
    txt(290, 577, "Vir-vOTUs", 10), seg(290, 547, 287, 564),
    txt(78, 388, "{a|VM} {b|(n = 125)}", 10, { rich: { a: { fontSize: 10, fontFamily: FONT, color: TXT }, b: { fontSize: 6.5, fontFamily: FONT, color: TXT } } }),
    txt(159, 388, "{a|MM} {b|(n = 138)}", 10, { rich: { a: { fontSize: 10, fontFamily: FONT, color: TXT }, b: { fontSize: 6.5, fontFamily: FONT, color: TXT } } }),
    seg(41, 382, 112, 382), seg(123, 382, 193, 382),
    txt(267, 303, "All:\nR\u00b2 = 0.06,\n{i|P} = 0.003", 7.5, { align: "left", verticalAlign: "top", lineHeight: 8.5, rich: { i: { fontStyle: "italic", fontSize: 7.5, fontFamily: FONT, color: TXT, lineHeight: 8.5 } } }),
    txt(612, 238, "All:\nR\u00b2 = -0.01,\n{i|P} = 0.788", 7.5, { align: "left", verticalAlign: "top", lineHeight: 8.5, rich: { i: { fontStyle: "italic", fontSize: 7.5, fontFamily: FONT, color: TXT, lineHeight: 8.5 } } }),
    ...keyGraphics,
  ];

  return {
    animation: false,
    backgroundColor: "#fff",
    textStyle: { fontFamily: FONT },
    tooltip: { show: false },
    grid, xAxis, yAxis, series, graphic,
  };
}

export default function App() {
  const ref = useRef<HTMLDivElement>(null);
  useEffect(() => {
    document.body.style.margin = "0";
    document.body.style.padding = "0";
    document.body.style.overflow = "hidden";
    if (!ref.current) return;
    const chart = echarts.init(ref.current, null, { renderer: "svg" });
    chart.setOption(buildOption() as any);
    return () => chart.dispose();
  }, []);
  return <div ref={ref} style={{ position: "relative", width: 685, height: 590, margin: 0, background: "#fff" }} />;
}
